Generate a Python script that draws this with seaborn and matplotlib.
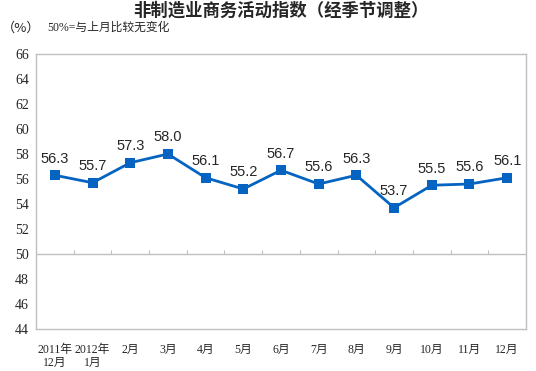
import numpy as np
import pandas as pd
import seaborn as sns
import matplotlib.pyplot as plt

months = ["2011年\n12月", "2012年\n1月", "2月", "3月", "4月", "5月", "6月",
          "7月", "8月", "9月", "10月", "11月", "12月"]
index_values = [56.3, 55.7, 57.3, 58.0, 56.1, 55.2, 56.7, 55.6, 56.3, 53.7, 55.5, 55.6, 56.1]
y_ticks = list(range(44, 67, 2))

sns.set_style("white")
plt.rcParams['font.family'] = ['Noto Sans CJK SC', 'DejaVu Sans']

df = pd.DataFrame({"pos": np.arange(len(months)), "value": index_values})

fig = plt.figure(figsize=(5.36, 3.71), dpi=100)
ax = fig.add_axes([36 / 536, 42 / 371, 490 / 536, 275 / 371])

sns.lineplot(data=df, x="pos", y="value", ax=ax, color="#0563c1", linewidth=2,
             marker="s", markersize=6.5, markeredgewidth=0)

for x, v in zip(df["pos"], df["value"]):
    ax.annotate(f"{v:.1f}", (x, v), xytext=(0, 7), textcoords="offset points",
                ha="center", va="bottom", fontsize=10.5, family=["Liberation Sans"])

ax.set_xlim(-0.5, len(months) - 0.5)
ax.set_ylim(44, 66)
ax.set_yticks(y_ticks)
ax.set_yticklabels([str(t) for t in y_ticks])
plt.setp(ax.get_yticklabels(), family="Liberation Serif", fontsize=10)
ax.set_xticks(df["pos"])
ax.set_xticklabels(months, fontsize=8.5, family=["Liberation Serif", "Noto Sans CJK SC"],
                   linespacing=1.05)
ax.tick_params(axis="x", length=0, pad=11)
ax.tick_params(axis="y", direction="in", length=3, color="#b0b0b0", pad=5)
ax.set_xlabel("")
ax.set_ylabel("")

for s in ax.spines.values():
    s.set_color("#bfbfbf")
    s.set_linewidth(1)

# 50 reference line with category tick marks pointing up
ax.axhline(50, color="#bfbfbf", linewidth=1, zorder=1)
sec = ax.secondary_xaxis((50 - 44) / (66 - 44))
sec.set_xticks(np.arange(0.5, len(months) - 1, 1))
sec.set_xticklabels([])
sec.tick_params(direction="in", length=3, color="#bfbfbf")
sec.spines["bottom"].set_visible(False)

fig.text(0.525, 0.972, "非制造业商务活动指数（经季节调整）", ha="center", va="center",
         fontsize=12.5, fontweight="bold")
fig.text(0.003, 0.925, "（%）", ha="left", va="center", fontsize=9.5)
fig.text(0.088, 0.925, "50%=与上月比较无变化", ha="left", va="center", fontsize=8.5,
         family=["Liberation Serif", "Noto Sans CJK SC"])

fig.savefig("out.png", dpi=100)
